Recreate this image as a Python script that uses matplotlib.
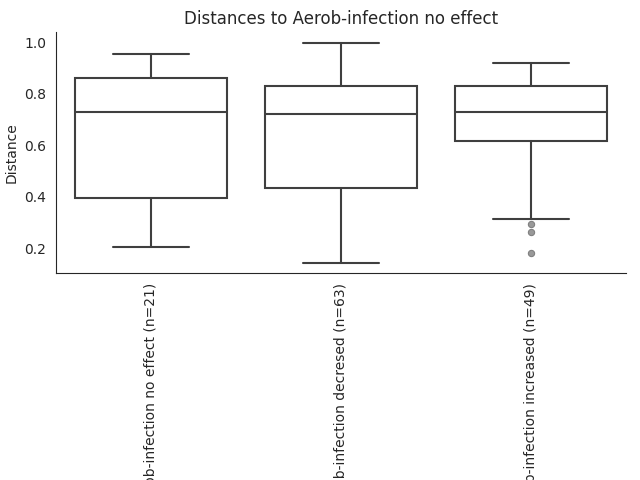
import matplotlib
matplotlib.use("Agg")
import matplotlib.pyplot as plt
import seaborn as sns

# box statistics
categories = [
    "Aerob-infection no effect (n=21)",
    "Aerob-infection decresed (n=63)",
    "Aerob-infection increased (n=49)",
]
whis_lo = [0.205, 0.142, 0.313]
q1 = [0.395, 0.434, 0.616]
median = [0.727, 0.720, 0.730]
q3 = [0.859, 0.829, 0.829]
whis_hi = [0.953, 0.995, 0.920]
fliers = [[], [], [0.292, 0.262, 0.183]]

sns.set_style("white")

stats = []
for i in range(len(categories)):
    stats.append({
        "whislo": whis_lo[i], "q1": q1[i], "med": median[i],
        "q3": q3[i], "whishi": whis_hi[i], "fliers": fliers[i],
    })

fig = plt.figure(figsize=(6.4, 4.8), dpi=100)
ax = fig.add_axes([0.0875, 0.431, 0.8906, 0.502])

line_c = "#3f3f3f"
ax.bxp(stats, positions=range(len(categories)), widths=0.8,
       patch_artist=True, showfliers=True,
       boxprops=dict(facecolor="white", edgecolor=line_c, linewidth=1.5),
       medianprops=dict(color=line_c, linewidth=1.5),
       whiskerprops=dict(color=line_c, linewidth=1.5),
       capprops=dict(color=line_c, linewidth=1.5),
       flierprops=dict(marker="o", markerfacecolor="#999999",
                       markeredgecolor="#808080", markeredgewidth=0.8,
                       markersize=4.5))

ax.set_xlim(-0.5, 2.5)
ax.set_ylim(0.103, 1.039)
ax.set_yticks([0.2, 0.4, 0.6, 0.8, 1.0])
ax.set_xticks(range(len(categories)))
ax.set_xticklabels(categories, rotation=90)
ax.set_ylabel("Distance")
ax.set_title("Distances to Aerob-infection no effect")
sns.despine(ax=ax)

fig.savefig("out.png", dpi=100)
